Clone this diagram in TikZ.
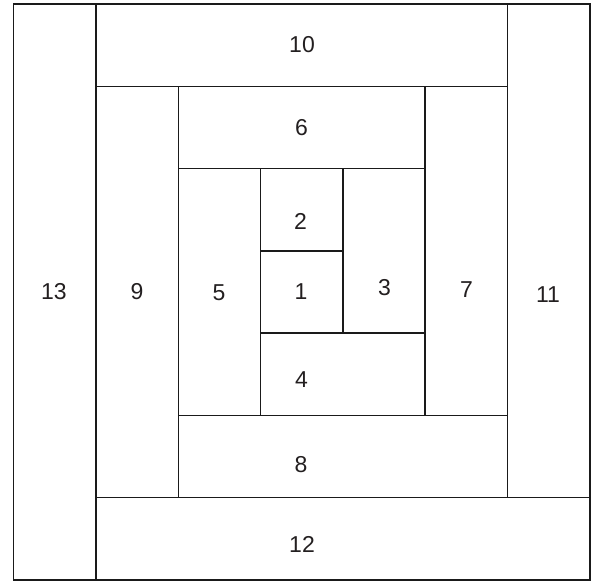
\documentclass[tikz,border=0pt]{standalone}
\usepackage{fontspec}
\setmainfont{Liberation Sans}
\definecolor{ink}{HTML}{1A1A1A}
\definecolor{txt}{HTML}{231F20}
\begin{document}
\begin{tikzpicture}[x=1pt,y=-1pt,
  cell/.style={draw=ink,line width=1.6pt},
  lab/.style={text=txt,font=\fontsize{23}{27}\selectfont,inner sep=0pt,anchor=center}]
\useasboundingbox (0,0) rectangle (597,582);
% grid: x = 13.5, 96, 178.3, 260.5, 342.8, 425.2, 507.5, 589.8
%       y = 4, 86.3, 168.5, 250.8, 333, 415.3, 497.6, 579.8
\draw[cell] (13.5,4) rectangle (96,579.8);      % 13
\draw[cell] (96,4) rectangle (507.5,86.3);      % 10
\draw[cell] (507.5,4) rectangle (589.8,497.6);  % 11
\draw[cell] (96,497.6) rectangle (589.8,579.8); % 12
\draw[cell] (96,86.3) rectangle (178.3,497.6);  % 9
\draw[cell] (178.3,86.3) rectangle (425.2,168.5); % 6
\draw[cell] (425.2,86.3) rectangle (507.5,415.3); % 7
\draw[cell] (178.3,415.3) rectangle (507.5,497.6); % 8
\draw[cell] (178.3,168.5) rectangle (260.5,415.3); % 5
\draw[cell] (260.5,168.5) rectangle (342.8,250.8); % 2
\draw[cell] (342.8,168.5) rectangle (425.2,333);   % 3
\draw[cell] (260.5,333) rectangle (425.2,415.3);   % 4
\draw[cell] (260.5,250.8) rectangle (342.8,333);   % 1
\node[lab] (n1)  at (301,292) {1};
\node[lab] (n2)  at (300.5,221) {2};
\node[lab] (n3)  at (384.5,288) {3};
\node[lab] (n4)  at (301.5,380) {4};
\node[lab] (n5)  at (219,293) {5};
\node[lab] (n6)  at (301.5,127.5) {6};
\node[lab] (n7)  at (466.5,290) {7};
\node[lab] (n8)  at (301,465) {8};
\node[lab] (n9)  at (137,292) {9};
\node[lab] (n10) at (302,45) {10};
\node[lab] (n11) at (548,295) {11};
\node[lab] (n12) at (302,544) {12};
\node[lab] (n13) at (54,292) {13};
\end{tikzpicture}
\end{document}
